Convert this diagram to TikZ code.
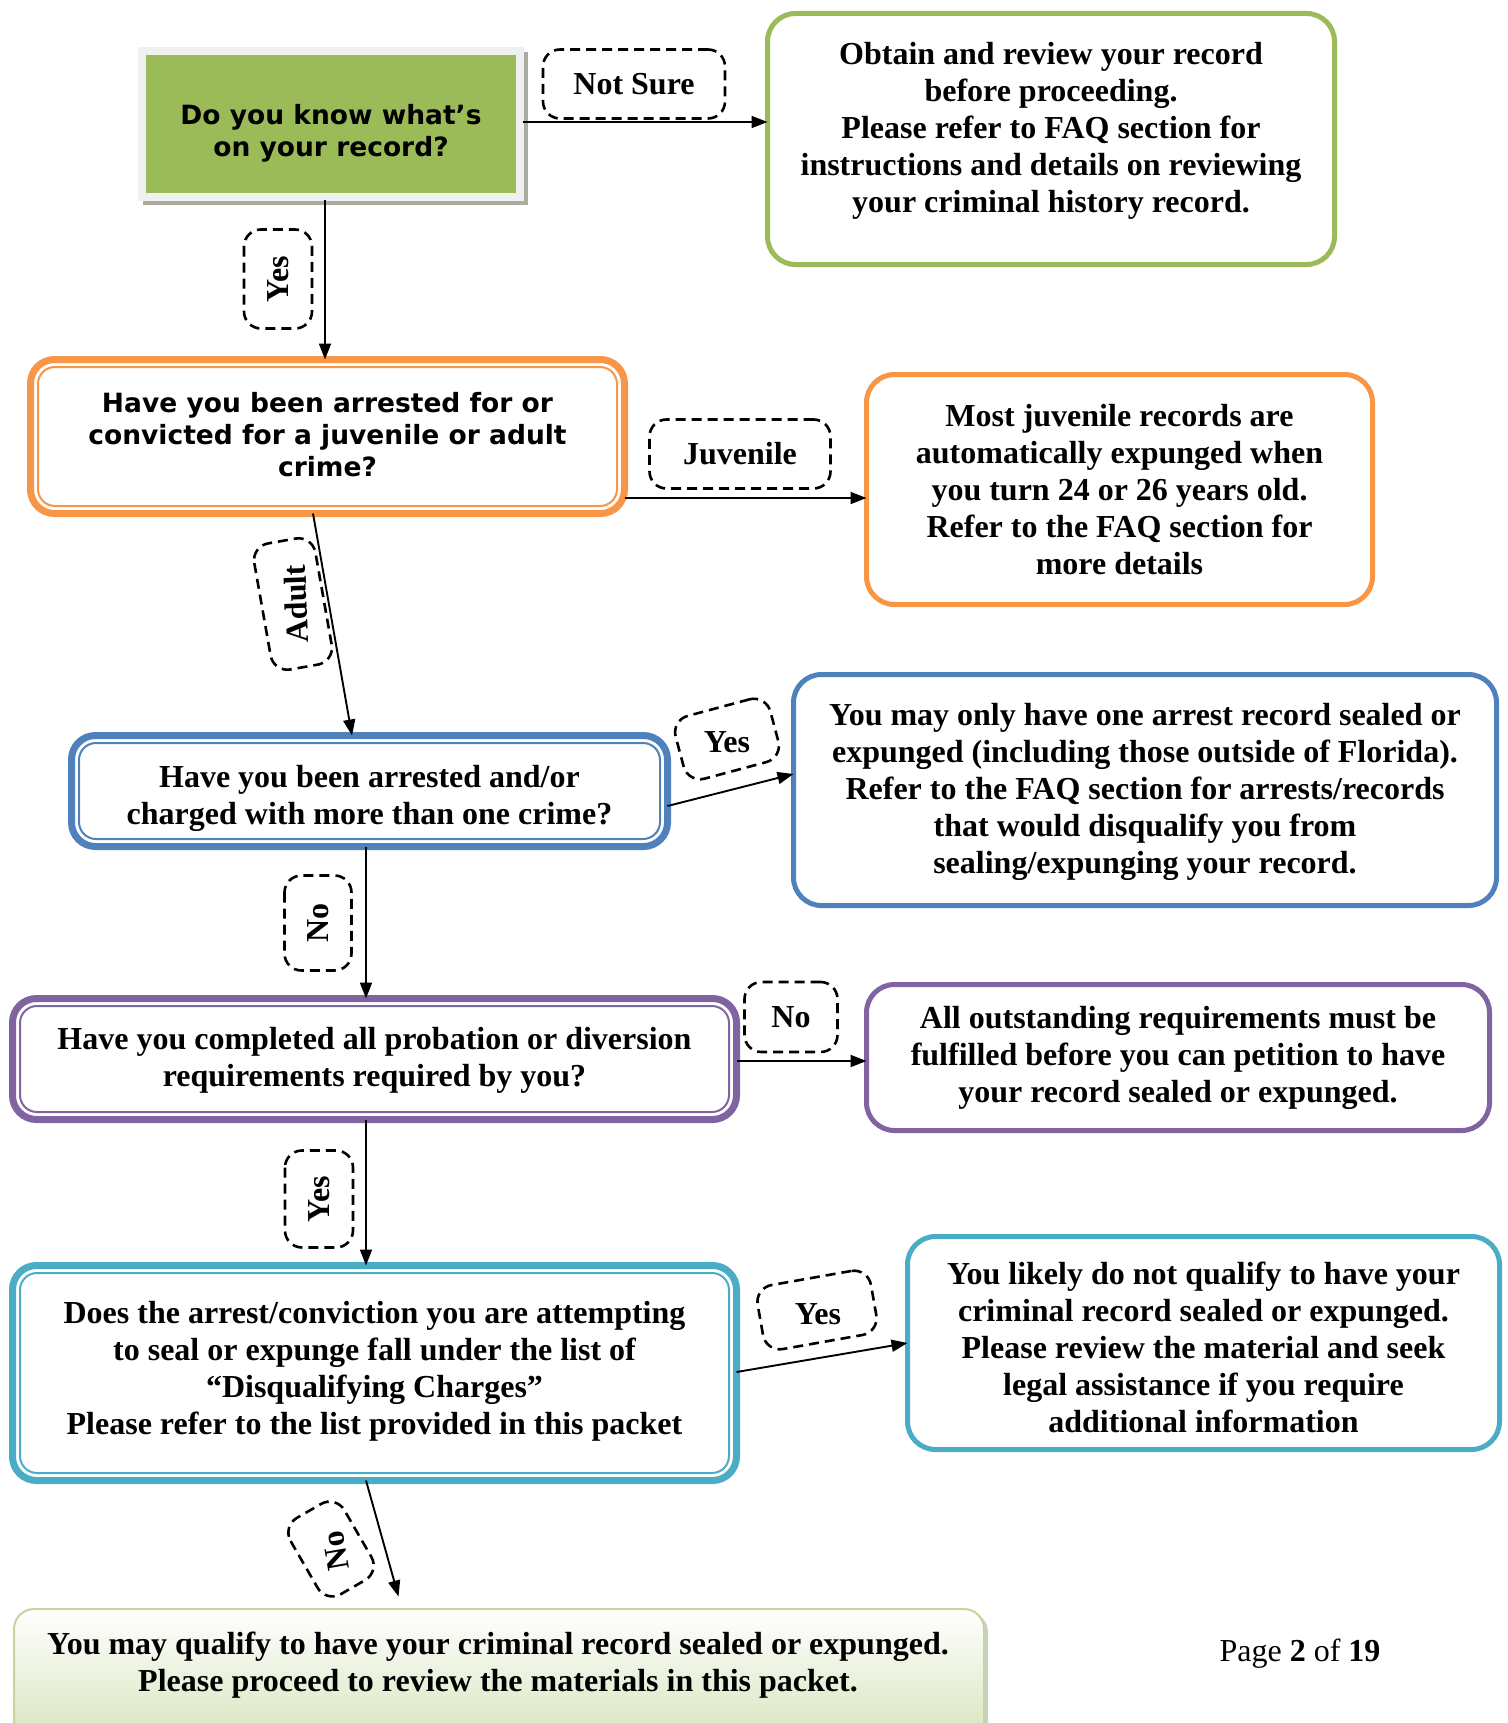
\documentclass[tikz,border=0pt]{standalone}
\usepackage{fontspec}
\setmainfont{Liberation Serif}
\newfontfamily\verdfont{DejaVu Sans}
\usetikzlibrary{arrows.meta,calc}
\definecolor{cgreen}{HTML}{9BBB59}
\definecolor{corange}{HTML}{F79646}
\definecolor{cblue}{HTML}{4F81BD}
\definecolor{cpurple}{HTML}{8064A2}
\definecolor{cteal}{HTML}{4BACC6}
\definecolor{botfill}{HTML}{D2E1B4}
\definecolor{botborder}{HTML}{C3D69B}
\definecolor{framegray}{HTML}{F0F0F0}
\definecolor{shadowgray}{HTML}{A9AC9E}
\begin{document}
\begin{tikzpicture}[x=1pt,y=-1pt,
  serif/.style={font=\fontsize{32}{37}\selectfont\bfseries},
  sans/.style={font=\verdfont\fontsize{26.5}{32}\selectfont\bfseries},
  box/.style={rectangle, outer sep=0pt, inner sep=0pt, align=center, fill=white},
  dbox/.style={box, line width=7pt, rounded corners=24pt},
  sbox/.style={box, line width=5pt, rounded corners=28pt},
  txt/.style={align=center, inner sep=0pt},
  arr/.style={line width=1.9pt, -{Triangle[length=16pt,width=12pt]}},
  lblshape/.style={draw, line width=2.6pt, dash pattern=on 10pt off 6pt, rounded corners=17pt, inner sep=0pt, outer sep=0pt},
  lbltext/.style={font=\fontsize{32}{37}\selectfont\bfseries, inner sep=0pt},
  lbl/.style={lblshape, lbltext}
]
\useasboundingbox (0,0) rectangle (1507,1723);

% ---- question 1 (green filled) ----
\fill[shadowgray] (143,52) rectangle (528,205);
\node[box, fill=framegray, draw=gray!12, line width=0.8pt, minimum width=385, minimum height=153] (g1) at (330.5,123.5) {};
\node[box, fill=cgreen, minimum width=370, minimum height=138] (q1) at (331,124) {};
\node[txt, sans] (q1t) at (331,133) {Do you know what’s\\on your record?};

% ---- answer 1 ----
\node[sbox, draw=cgreen, minimum width=567, minimum height=251] (a1) at (1051,139) {};
\node[txt, serif] (a1t) at (1051,131)
  {Obtain and review your record\\before proceeding.\\Please refer to FAQ section for\\instructions and details on reviewing\\your criminal history record.};

% ---- question 2 (orange) ----
\node[dbox, draw=corange, minimum width=594, minimum height=154] (q2) at (327.5,436.5) {};
\draw[corange, line width=2pt, rounded corners=17pt] ($(q2.north west)+(7.5,7.5)$) rectangle ($(q2.south east)+(-7.5,-7.5)$);
\node[txt, sans] (q2t) at (327.5,434.5)
  {Have you been arrested for or\\convicted for a juvenile or adult\\crime?};

\node[sbox, draw=corange, minimum width=506, minimum height=230, serif] (a2) at (1119.5,489.5)
  {Most juvenile records are\\automatically expunged when\\you turn 24 or 26 years old.\\Refer to the FAQ section for\\more details};

% ---- question 3 (blue) ----
\node[dbox, draw=cblue, minimum width=596, minimum height=111] (q3) at (369.5,791) {};
\draw[cblue, line width=2pt, rounded corners=17pt] ($(q3.north west)+(7.5,7.5)$) rectangle ($(q3.south east)+(-7.5,-7.5)$);
\node[txt, serif] (q3t) at (369.5,798.5)
  {Have you been arrested and/or\\charged with more than one crime?};

\node[sbox, draw=cblue, minimum width=703, minimum height=231] (a3) at (1145,790) {};
\node[txt, serif] (a3t) at (1145,792)
  {You may only have one arrest record sealed or\\expunged (including those outside of Florida).\\Refer to the FAQ section for arrests/records\\that would disqualify you from\\sealing/expunging your record.};

% ---- question 4 (purple) ----
\node[dbox, draw=cpurple, minimum width=724, minimum height=121] (q4) at (374.5,1059) {};
\draw[cpurple, line width=2pt, rounded corners=17pt] ($(q4.north west)+(7.5,7.5)$) rectangle ($(q4.south east)+(-7.5,-7.5)$);
\node[txt, serif] (q4t) at (374.5,1060)
  {Have you completed all probation or diversion\\requirements required by you?};

\node[sbox, draw=cpurple, minimum width=623, minimum height=146, serif] (a4) at (1178,1057.5)
  {All outstanding requirements must be\\fulfilled before you can petition to have\\your record sealed or expunged.};

% ---- question 5 (teal) ----
\node[dbox, draw=cteal, minimum width=724, minimum height=215] (q5) at (374.5,1373) {};
\draw[cteal, line width=2pt, rounded corners=17pt] ($(q5.north west)+(7.5,7.5)$) rectangle ($(q5.south east)+(-7.5,-7.5)$);
\node[txt, serif] (q5t) at (374.5,1371)
  {Does the arrest/conviction you are attempting\\to seal or expunge fall under the list of\\“Disqualifying Charges”\\Please refer to the list provided in this packet};

\node[sbox, draw=cteal, minimum width=592, minimum height=213] (a5) at (1203.5,1343) {};
\node[txt, serif] (a5t) at (1203.5,1347.5)
  {You likely do not qualify to have your\\criminal record sealed or expunged.\\Please review the material and seek\\legal assistance if you require\\additional information};

% ---- result ----
\fill[gray!40, rounded corners=20pt] (17,1612) rectangle (988,1770);
\node[rectangle, outer sep=0pt, draw=botborder, line width=2pt, rounded corners=20pt,
  top color=white, bottom color=botfill, minimum width=970, minimum height=152] (res) at (499,1685) {};
\node[txt, serif] (restxt) at (498,1665)
  {You may qualify to have your criminal record sealed or expunged.\\Please proceed to review the materials in this packet.};

\node[font=\fontsize{32}{37}\selectfont] (pg) at (1300,1654) {Page \textbf{2} of \textbf{19}};

% ---- connectors ----
\draw[arr] (g1.east |- 0,122) -- (a1.west |- 0,122);
\draw[arr] (g1.south -| 325,0) -- (q2.north -| 325,0);
\draw[arr] (q2.east |- 0,498) -- (a2.west |- 0,498);
\draw[arr] (q2.south -| 313,0) -- (q3.north -| 352,0);
\draw[arr] (q3.east |- 0,806) -- (a3.west |- 0,774);
\draw[arr] (q3.south -| 366,0) -- (q4.north -| 366,0);
\draw[arr] (q4.east |- 0,1061) -- (a4.west |- 0,1061);
\draw[arr] (q4.south -| 366,0) -- (q5.north -| 366,0);
\draw[arr] (q5.east |- 0,1372) -- (a5.west |- 0,1343);
\draw[arr, shorten >=13pt] (q5.south -| 366,0) -- (res.north -| 402,0);

% ---- labels ----
\node[lbl, minimum width=182, minimum height=69] (l1) at (634,84) {Not Sure};
\node[lbl, rotate=90, minimum width=99, minimum height=68] (l2) at (278,279) {Yes};
\node[lbl, minimum width=181, minimum height=69] (l3) at (740,454) {Juvenile};
\node[lblshape, rotate=100, minimum width=128, minimum height=62] (l4) at (293,604) {};
\node[lbltext, rotate=92] (l4t) at (296,604) {Adult};
\node[lblshape, rotate=15, minimum width=98, minimum height=65] (l5) at (727,739) {};
\node[lbltext] (l5t) at (727,742) {Yes};
\node[lbl, rotate=90, minimum width=95, minimum height=67] (l6) at (318,923) {No};
\node[lbl, minimum width=93, minimum height=70] (l7) at (791,1017) {No};
\node[lbl, rotate=90, minimum width=97, minimum height=68] (l8) at (319,1199) {Yes};
\node[lblshape, rotate=10, minimum width=115, minimum height=65] (l9) at (817,1310) {};
\node[lbltext] (l9t) at (818,1314) {Yes};
\node[lblshape, rotate=120, minimum width=88, minimum height=62] (l10) at (331,1549) {};
\node[lbltext, rotate=100] (l10t) at (336,1551) {No};
\end{tikzpicture}
\end{document}
